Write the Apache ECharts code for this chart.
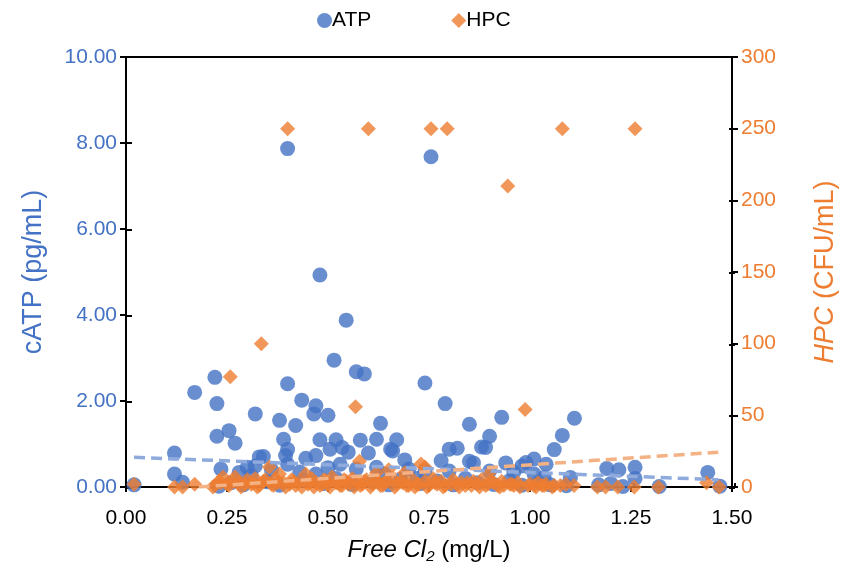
<!DOCTYPE html>
<html><head><meta charset="utf-8">
<script src="https://cdn.jsdelivr.net/npm/echarts@6/dist/echarts.min.js"></script>
<style>html,body{margin:0;padding:0;background:#fff}#c{width:847px;height:569px}</style>
</head><body><div id="c"></div>
<script>
// ATP: free chlorine (mg/L) and cATP (pg/mL)
const atpCl = [0.40,0.755,0.48,0.545,0.515,0.57,0.59,0.74,0.22,0.17,0.40,0.225,0.435,0.47,0.465,0.50,0.32,0.38,0.42,0.79,0.93,0.85,0.63,1.11,1.08,1.06,0.90,0.89,0.225,0.255,0.27,0.39,0.48,0.58,0.62,0.67,0.52,0.66,0.69,0.60,0.535,0.505,0.80,0.82,0.78,0.86,0.94,0.99,1.01,0.98,1.19,1.22,1.26,1.26,1.44,1.10,1.035,0.40,0.395,0.12,0.34,0.445,0.47,0.12,0.14,0.235,0.28,0.30,0.32,0.02,0.23,1.23,1.32,1.47,1.09,0.31,0.33,0.40,0.43,0.47,0.55,0.655,0.53,0.57,0.62,0.70,0.74,0.80,0.88,0.85,1.04,0.90,0.96,1.01,0.36,0.50,0.64,0.72,0.26,0.29,0.35,0.38,0.44,0.49,0.52,0.56,0.61,0.65,0.68,0.73,0.77,0.81,0.84,0.87,0.91,0.95,0.98,1.02,1.05,1.17,1.20];
const atpVal = [7.87,7.68,4.93,3.88,2.95,2.68,2.63,2.42,2.55,2.20,2.40,1.94,2.02,1.89,1.70,1.67,1.70,1.55,1.43,1.94,1.62,1.46,1.48,1.60,1.20,0.87,1.18,0.92,1.18,1.31,1.02,1.11,1.10,1.09,1.11,1.10,1.10,0.84,0.63,0.79,0.92,0.88,0.88,0.90,0.61,0.56,0.56,0.57,0.65,0.49,0.43,0.40,0.46,0.20,0.34,0.22,0.22,0.87,0.73,0.79,0.71,0.67,0.73,0.30,0.11,0.42,0.34,0.46,0.49,0.05,0.02,0.01,0.01,0.02,0.03,0.26,0.70,0.53,0.35,0.30,0.81,0.88,0.53,0.42,0.46,0.42,0.37,0.37,0.93,0.60,0.53,0.37,0.35,0.30,0.40,0.45,0.30,0.20,0.10,0.05,0.12,0.04,0.15,0.08,0.20,0.06,0.12,0.05,0.18,0.08,0.14,0.05,0.20,0.10,0.06,0.15,0.04,0.10,0.05,0.05,0.08];
// HPC: free chlorine (mg/L) and HPC (CFU/mL)
const hpcCl = [0.40,0.60,0.755,0.795,1.08,1.26,0.945,0.335,0.258,0.568,0.988,0.578,0.74,0.90,0.355,0.38,0.445,0.65,0.73,0.62,0.69,0.02,0.12,0.14,0.17,0.23,0.24,0.27,0.22,0.25,0.28,0.30,0.31,0.32,0.33,0.34,0.36,0.37,0.39,0.41,0.42,0.43,0.45,0.46,0.47,0.48,0.49,0.50,0.51,0.52,0.53,0.54,0.55,0.56,0.57,0.58,0.59,0.61,0.62,0.63,0.64,0.66,0.67,0.68,0.70,0.71,0.72,0.74,0.75,0.76,0.77,0.78,0.79,0.81,0.82,0.83,0.84,0.86,0.87,0.88,0.89,0.91,0.92,0.93,0.95,0.96,0.97,1.00,1.01,1.02,1.03,1.04,1.06,1.089,1.109,1.167,1.187,1.217,1.258,1.318,1.437,1.468,
  0.215,0.235,0.255,0.265,0.285,0.295,0.315,0.325,0.345,0.365,0.375,0.395,0.405,0.415,0.435,0.455,0.465,0.485,0.495,0.505,0.525,0.535,0.545,0.565,0.585,0.595,0.605,0.625,0.635,0.645,0.665,0.685,0.695,0.715,0.725,0.745,0.765,0.785,0.805,0.825,0.845,0.855,0.875,0.895,0.905,0.925,0.935,0.955,0.975,0.995,1.015,1.035,1.055,1.075];
const hpcVal = [250,250,250,250,250,250,210,100,77,56,54,18,14,10,14,9,9,12,16,10,10,2,0,0,2,4,7,7,1,2,3,5,2,6,1,4,2,6,3,5,1,4,2,6,3,1,5,2,7,3,1,5,2,6,3,1,4,2,5,1,3,6,2,4,1,5,2,4,1,6,2,4,1,5,2,3,1,4,2,5,1,3,1,4,2,1,3,2,1,3,1,2,1,2,1,0,0,0,0,0,3,0,
  0,3,1,4,0,2,3,0,5,1,3,0,2,4,0,3,0,2,4,0,3,1,4,0,2,5,0,3,1,4,0,3,1,0,2,0,3,0,2,0,3,1,0,2,4,0,1,2,0,1,0,1,0,1];
// Linear trendline end points
const atpTrendCl = [0.02, 1.466];
const atpTrendVal = [0.69, 0.17];
const hpcTrendCl = [0.18, 1.466];
const hpcTrendVal = [0, 24.3];
// Axis ticks: [min, max, interval]
const xTicks = [0, 1.5, 0.25];
const leftTicks = [0, 10, 2];
const rightTicks = [0, 300, 50];

const BLUE = '#4472C4', ORANGE = '#ED7D31';
const FONT = "'Liberation Sans', Arial, sans-serif";
const zip = (a, b) => a.map((v, i) => [v, b[i]]);

const grid = {left:126, right:112, top:57, bottom:81};
const baseX = (gi, inside, labels) => ({
  type:'value', gridIndex:gi, position:'bottom', min:xTicks[0], max:xTicks[1], interval:xTicks[2],
  axisLine:{show:labels, onZero:false, lineStyle:{color:'#000', width:2}},
  axisTick:{show:true, inside:inside, length:5, lineStyle:{color:'#000', width:2}},
  axisLabel:{show:labels, color:'#000', fontFamily:FONT, fontSize:21, margin:21, formatter:v=>v.toFixed(2)},
  splitLine:{show:false}
});
const baseY = (gi, pos, t, inside, labels, color, fmt) => ({
  type:'value', gridIndex:gi, position:pos, min:t[0], max:t[1], interval:t[2],
  axisLine:{show:labels, onZero:false, lineStyle:{color:'#000', width:2}},
  axisTick:{show:true, inside:inside, length:6, lineStyle:{color:'#000', width:2}},
  axisLabel:{show:labels, color:color, fontFamily:FONT, fontSize:21, margin:9, formatter:fmt},
  splitLine:{show:false}
});

const xa0 = baseX(0, false, true);
xa0.name = '{i|Free Cl}{s|2}{n| (mg/L)}';
xa0.nameLocation = 'middle'; xa0.nameGap = 50;
xa0.nameTextStyle = {rich:{
  i:{fontFamily:FONT, fontSize:24, fontStyle:'italic', color:'#000'},
  s:{fontFamily:FONT, fontSize:15, fontStyle:'italic', color:'#000', padding:[12,0,0,0]},
  n:{fontFamily:FONT, fontSize:24, color:'#000'}
}};
const ya0 = baseY(0, 'left', leftTicks, false, true, BLUE, v=>v.toFixed(2));
ya0.name = 'cATP (pg/mL)'; ya0.nameLocation='middle'; ya0.nameGap=79; ya0.nameRotate=90;
ya0.nameTextStyle = {color:BLUE, fontFamily:FONT, fontSize:27};
const ya1 = baseY(0, 'right', rightTicks, false, true, ORANGE, v=>String(v));
ya1.name = '{i|HPC}{n| (CFU/mL)}'; ya1.nameLocation='middle'; ya1.nameGap=80; ya1.nameRotate=90;
ya1.nameTextStyle = {rich:{
  i:{fontFamily:FONT, fontSize:27, fontStyle:'italic', color:ORANGE},
  n:{fontFamily:FONT, fontSize:27, color:ORANGE}
}};

const option = {
  animation:false,
  backgroundColor:'#fff',
  textStyle:{fontFamily:FONT},
  legend:{
    top:5, left:312, itemGap:80, itemWidth:15, itemHeight:15,
    textStyle:{fontFamily:FONT, fontSize:21, color:'#000', padding:[0,0,0,-5]},
    data:[{name:'ATP', icon:'circle'}, {name:'HPC', icon:'diamond'}]
  },
  grid:[Object.assign({show:true, borderColor:'#000', borderWidth:2, backgroundColor:'transparent'}, grid), Object.assign({}, grid)],
  xAxis:[xa0, baseX(1, true, false)],
  yAxis:[ya0, ya1, baseY(1,'left',leftTicks,true,false,BLUE,null), baseY(1,'right',rightTicks,true,false,ORANGE,null)],
  series:[
    {name:'ATP', type:'scatter', xAxisIndex:0, yAxisIndex:0, symbol:'circle', symbolSize:15,
     itemStyle:{color:BLUE}, data:zip(atpCl, atpVal), z:2},
    {name:'HPC', type:'scatter', xAxisIndex:0, yAxisIndex:1, symbol:'diamond', symbolSize:15,
     itemStyle:{color:ORANGE}, data:zip(hpcCl, hpcVal), z:3},
    {name:'ATP trend', type:'line', xAxisIndex:0, yAxisIndex:0, symbol:'none', silent:true,
     lineStyle:{color:'#8FAADC', width:3.5, type:[11,6]}, data:zip(atpTrendCl, atpTrendVal), z:4},
    {name:'HPC trend', type:'line', xAxisIndex:0, yAxisIndex:1, symbol:'none', silent:true,
     lineStyle:{color:'#F4B183', width:3.5, type:[11,6]}, data:zip(hpcTrendCl, hpcTrendVal), z:5}
  ]
};
const chart = echarts.init(document.getElementById('c'), null, {renderer:'canvas'});
chart.setOption(option);
</script></body></html>
